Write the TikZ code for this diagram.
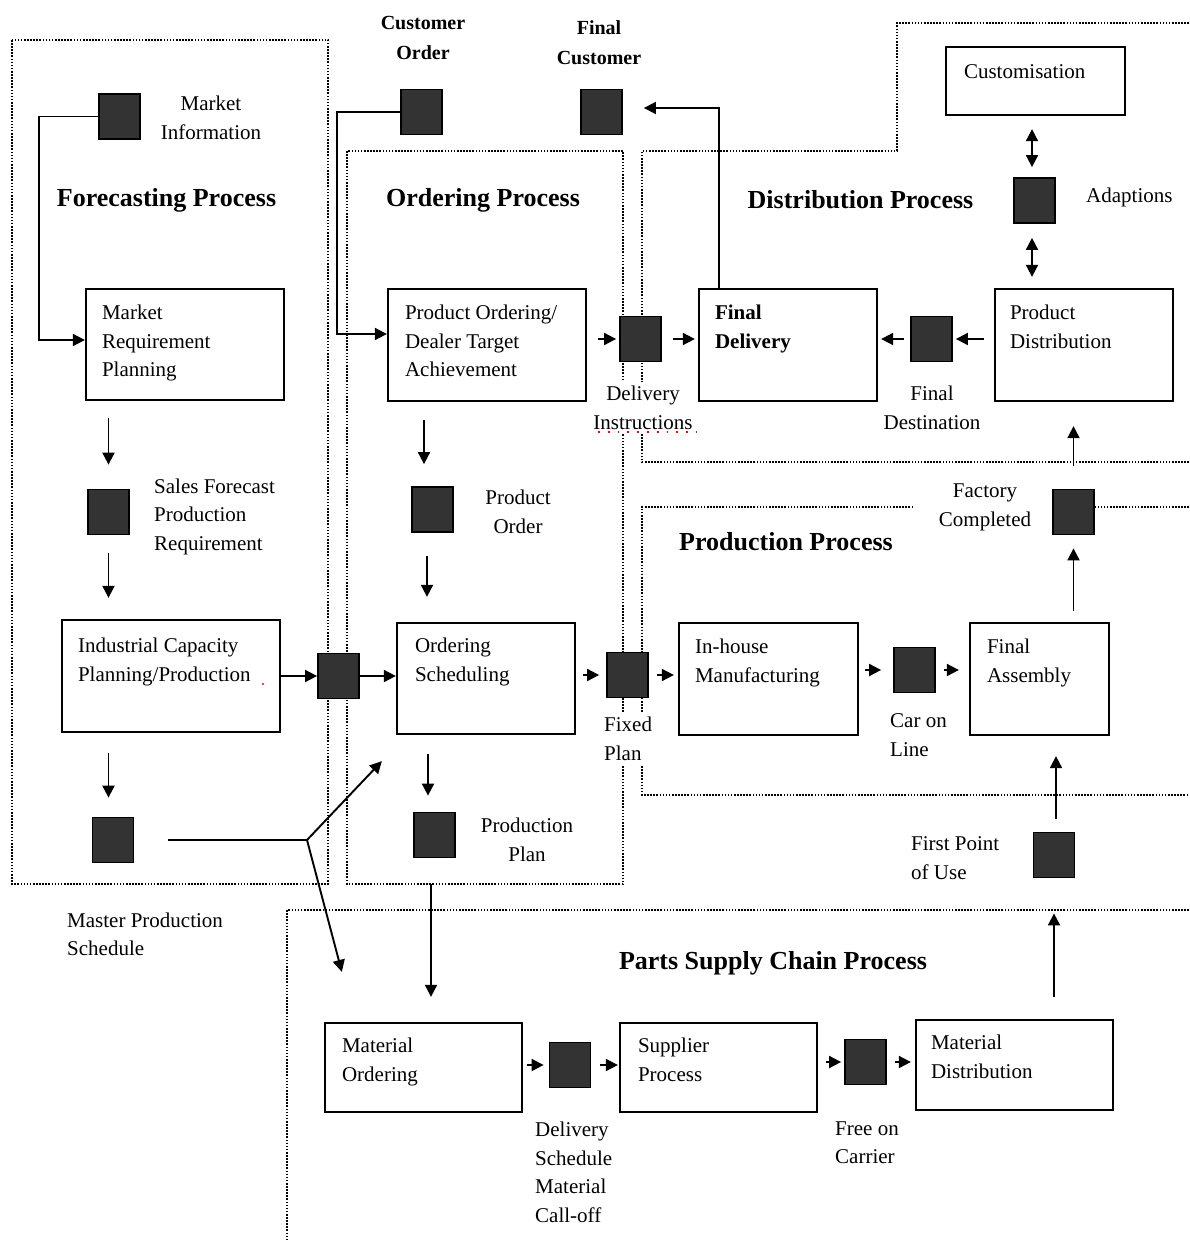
\documentclass[tikz,border=0pt]{standalone}
\usepackage{fontspec}
\setmainfont{Liberation Serif}
\usetikzlibrary{arrows.meta,calc}

\definecolor{sqfill}{HTML}{333333}

\begin{document}
\begin{tikzpicture}[x=1pt,y=-1pt,
  region/.style={line width=1.7pt, dash pattern=on 1.6pt off 1.5pt},
  procbox/.style={draw, line width=2.3pt, inner sep=0pt},
  store/.style={draw, line width=1.8pt, fill=sqfill, minimum width=41pt, minimum height=45pt, inner sep=0pt},
  txt/.style={font=\fontsize{21}{28.5}\selectfont, inner sep=0pt, align=left},
  ctxt/.style={txt, align=center},
  boxtxt/.style={txt, anchor=north west},
  title/.style={font=\fontsize{26}{30}\selectfont\bfseries, inner sep=0pt},
  toplabel/.style={font=\fontsize{20}{30}\selectfont\bfseries, inner sep=0pt, align=center},
  flow/.style={line width=1.9pt, -{Triangle[length=12pt,width=12pt]}},
  link/.style={line width=1.9pt},
  twoway/.style={line width=1.9pt, {Triangle[length=12pt,width=12pt]}-{Triangle[length=12pt,width=12pt]}},
  mask/.style={fill=white}
]
\useasboundingbox (0,0) rectangle (1189,1241);

% ---------- process regions (dotted) ----------
\draw[region] (12,40) rectangle (328,884);                       % forecasting
\draw[region] (347,151) rectangle (623,884);                     % ordering
\draw[region] (1189,462) -- (642,462) -- (642,151) -- (897,151) -- (897,23) -- (1189,23); % distribution
\draw[region] (1189,507) -- (642,507) -- (642,795) -- (1189,795); % production
\draw[region] (1189,910) -- (287,910) -- (287,1241);              % parts supply

% ---------- titles ----------
\node[title] (t-fc) at (166.5,200) {Forecasting Process};
\node[title] (t-or) at (483,200) {Ordering Process};
\node[title] (t-di) at (860.5,200) {Distribution Process};
\node[title] (t-pr) at (786,542) {Production Process};
\node[title] (t-ps) at (773,963) {Parts Supply Chain Process};

% ---------- process boxes ----------
\node[procbox, minimum width=198pt, minimum height=111pt] (mrp)   at (185,344.5) {};
\node[procbox, minimum width=198pt, minimum height=112pt] (pod)   at (487,345) {};
\node[procbox, minimum width=178pt, minimum height=112pt] (fdel)  at (788,345) {};
\node[procbox, minimum width=178pt, minimum height=112pt] (pdist) at (1084,345) {};
\node[procbox, minimum width=179pt, minimum height=68pt]  (cust)  at (1035.5,81) {};
\node[procbox, minimum width=218pt, minimum height=112pt] (icp)   at (171,676) {};
\node[procbox, minimum width=178pt, minimum height=111pt] (os)    at (486,678.5) {};
\node[procbox, minimum width=179pt, minimum height=112pt] (ihm)   at (768.5,679) {};
\node[procbox, minimum width=139pt, minimum height=112pt] (fa)    at (1039.5,679) {};
\node[procbox, minimum width=197pt, minimum height=89pt]  (mo)    at (423.5,1067.5) {};
\node[procbox, minimum width=197pt, minimum height=89pt]  (sp)    at (718.5,1067.5) {};
\node[procbox, minimum width=197pt, minimum height=90pt]  (md)    at (1014.5,1065) {};

\node[boxtxt] (mrp-t)   at ($(mrp.north west)+(17,17)$)   {Market\\Requirement\\Planning};
\node[boxtxt] (pod-t)   at ($(pod.north west)+(18,17)$)   {Product Ordering/\\Dealer Target\\Achievement};
\node[boxtxt, font=\fontsize{21}{28.5}\selectfont\bfseries] (fdel-t) at ($(fdel.north west)+(17,17)$) {Final\\Delivery};
\node[boxtxt] (pdist-t) at ($(pdist.north west)+(16,17)$) {Product\\Distribution};
\node[boxtxt] (cust-t)  at ($(cust.north west)+(19,19)$)  {Customisation};
\node[boxtxt] (icp-t)   at ($(icp.north west)+(17,19)$)   {Industrial Capacity\\Planning/Production};
\node[boxtxt] (os-t)    at ($(os.north west)+(19,16)$)    {Ordering\\Scheduling};
\node[boxtxt] (ihm-t)   at ($(ihm.north west)+(17,17)$)   {In-house\\Manufacturing};
\node[boxtxt] (fa-t)    at ($(fa.north west)+(18,17)$)    {Final\\Assembly};
\node[boxtxt] (mo-t)    at ($(mo.north west)+(18,16)$)    {Material\\Ordering};
\node[boxtxt] (sp-t)    at ($(sp.north west)+(19,16)$)    {Supplier\\Process};
\node[boxtxt] (md-t)    at ($(md.north west)+(16,16)$)    {Material\\Distribution};

% ---------- labels of the information stores ----------
\node[toplabel] (l-co)  at (423,38) {Customer\\Order};
\node[toplabel] (l-fcu) at (599,43) {Final\\Customer};
\node[ctxt] (l-mi)  at (211,118) {Market\\Information};
\node[txt, anchor=west] (l-adp) at (1086,197) {Adaptions};
\node[ctxt, mask, inner sep=4pt] (l-di) at (643,408) {Delivery\\Instructions};
\node[ctxt] (l-fd)  at (932,408) {Final\\Destination};
\node[txt, anchor=west] (l-sf) at (154,516.5) {Sales Forecast\\Production\\Requirement};
\node[ctxt] (l-po)  at (518,512) {Product\\Order};
\node[ctxt, mask, inner ysep=3pt, inner xsep=24pt] (l-fcomp) at (985,507.5) {Factory\\Completed};
\node[txt, anchor=west, mask, inner sep=4pt] (l-fp) at (600,739) {Fixed\\Plan};
\node[txt, anchor=west] (l-col) at (890,735) {Car on\\Line};
\node[ctxt] (l-pp)  at (527,840) {Production\\Plan};
\node[txt, anchor=west] (l-fpu) at (911,858) {First Point\\of Use};
\node[txt, anchor=west] (l-mps) at (67,934.5) {Master Production\\Schedule};
\node[txt, anchor=west] (l-ds)  at (535,1172.5) {Delivery\\Schedule\\Material\\Call-off};
\node[txt, anchor=west] (l-foc) at (835,1142.5) {Free on\\Carrier};

% proofing marks
\draw[red, line width=1.8pt, dash pattern=on 1.8pt off 8pt] (598,432) -- (697,432);
\fill[red] (263,684) circle (1.2);

% ---------- information stores ----------
\node[store] (mi)    at (119.5,116.5) {};
\node[store] (co)    at (421.5,112) {};
\node[store] (fc)    at (601.5,112) {};
\node[store] (adp)   at (1034.5,200.5) {};
\node[store] (di)    at (640.5,339) {};
\node[store] (fd)    at (931.5,339) {};
\node[store] (sf)    at (108.5,512) {};
\node[store] (po)    at (432.5,509.5) {};
\node[store] (fcomp) at (1073.5,512) {};
\node[store] (ms)    at (338.5,676) {};
\node[store] (fp)    at (627.5,675) {};
\node[store] (col)   at (914.5,670) {};
\node[store] (mps)   at (113,840) {};
\node[store] (pp)    at (434.5,835) {};
\node[store] (fpu)   at (1054,855) {};
\node[store] (ds)    at (570,1065) {};
\node[store] (foc)   at (865.5,1062) {};

% ---------- forecasting flows ----------
\draw[flow] (mi.west) -- ++(-59,0) |- ($(mrp.west)+(0,-4.5)$);
\draw[flow] ($(mrp.south -| sf.north)+(0,17)$) -- ($(sf.north)+(0,-24)$);
\draw[flow] ($(sf.south)+(0,18)$) -- ($(icp.north -| sf.south)+(0,-21)$);
\draw[flow] ($(icp.south -| sf.south)+(0,20)$) -- ($(mps.north -| sf.south)+(0,-19)$);
\draw[flow] (icp.east |- ms.west) -- (ms.west);
\draw[flow] (ms.east) -- (ms.east -| os.west);

% master production schedule splits to ordering and parts supply
\coordinate (mps-split) at (307,840);
\draw[link] ($(mps.east)+(34,0)$) -- (mps-split);
\draw[flow] (mps-split) -- ($(os.south west)+(-14,26)$);
\draw[flow] (mps-split) -- ($(mo.north west)+(18,-50)$);

% ---------- ordering flows ----------
\draw[flow] (co.west) -- ++(-63,0) |- ($(pod.west)+(0,-11)$);
\draw[flow] ($(pod.south)+(-63,18)$) -- ($(po.north)+(-8.5,-22)$);
\draw[flow] ($(po.south)+(-5.5,23)$) -- ($(os.north -| po.south)+(-5.5,-25)$);
\draw[flow] ($(os.south)+(-58,19)$) -- ($(pp.north)+(-6.5,-16)$);
\coordinate (ord-out) at (431,884);
\draw[flow] (ord-out) -- ($(mo.north -| ord-out)+(0,-25)$);

% ---------- distribution flows ----------
\draw[flow] ($(pod.east |- di.west)+(11,0)$) -- ($(di.west)+(-3,0)$);
\draw[flow] ($(di.east)+(11,0)$) -- ($(fdel.west |- di.east)+(-3,0)$);
\draw[flow] ($(pdist.west |- fd.east)+(-10,0)$) -- ($(fd.east)+(3,0)$);
\draw[flow] ($(fd.west)+(-6,0)$) -- ($(fdel.east |- fd.west)+(3,0)$);
\draw[flow] ($(fdel.north)+(-69,0)$) |- ($(fc.east)+(21,-4)$);
\draw[twoway] ($(cust.south)+(-3.5,13)$) -- ($(adp.north)+(-2.5,-10)$);
\draw[twoway] ($(adp.south)+(-2.5,14)$) -- ($(pdist.north -| adp.south)+(-2.5,-11)$);

% ---------- production flows ----------
\draw[flow] ($(os.east |- fp.west)+(7,0)$) -- ($(fp.west)+(-7,0)$);
\draw[flow] ($(fp.east)+(8,0)$) -- ($(ihm.west |- fp.east)+(-4,0)$);
\draw[flow] ($(ihm.east |- col.west)+(6,0)$) -- ($(col.west)+(-12,0)$);
\draw[flow] ($(col.east)+(8,0)$) -- ($(fa.west |- col.east)+(-10,0)$);
\draw[flow] ($(fa.north -| fcomp.south)+(0,-11)$) -- ($(fcomp.south)+(0,13)$);
\draw[flow] ($(fcomp.north)+(0,-23)$) -- ($(pdist.south -| fcomp.north)+(0,24)$);
\draw[flow] ($(fpu.north)+(2,-13)$) -- ($(fa.south -| fpu.north)+(2,20)$);
\draw[flow] ($(md.north -| fpu.south)+(0,-22)$) -- ($(fpu.south)+(0,35)$);

% ---------- parts supply flows ----------
\draw[flow] ($(mo.east |- ds.west)+(4,0)$) -- ($(ds.west)+(-5,0)$);
\draw[flow] ($(ds.east)+(9,0)$) -- ($(sp.west |- ds.east)+(-1,0)$);
\draw[flow] ($(sp.east |- foc.west)+(8,0)$) -- ($(foc.west)+(-3,0)$);
\draw[flow] ($(foc.east)+(8,0)$) -- ($(md.west |- foc.east)+(-4,0)$);

\end{tikzpicture}
\end{document}
